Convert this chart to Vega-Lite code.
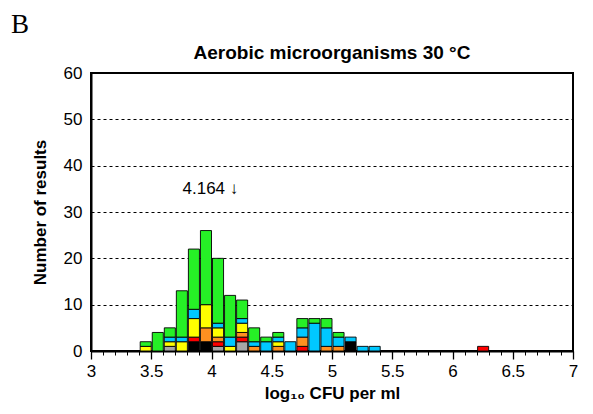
{
  "$schema": "https://vega.github.io/schema/vega-lite/v6.json",
  "autosize": {"type": "pad"},
  "padding": {"left": 11, "top": 11, "right": 15, "bottom": 6},
  "background": "white",
  "title": {"text": "B", "anchor": "start", "frame": "group", "font": "Liberation Serif", "fontSize": 27, "fontWeight": "normal", "color": "black", "dx": -80, "offset": 4},
  "config": {
    "view": {"stroke": "black", "strokeWidth": 2},
    "font": "Liberation Sans",
    "axis": {"labelFont": "Liberation Sans", "titleFont": "Liberation Sans", "labelColor": "black", "titleColor": "black", "domainColor": "black", "tickColor": "black"}
  },
  "bounds": "flush",
  "vconcat": [
    {
      "width": 482,
      "height": 278,
      "title": {"text": "Aerobic microorganisms 30 °C", "font": "Liberation Sans", "fontSize": 19, "fontWeight": "bold", "color": "black", "offset": 1},
      "data": {"values": [
        {"lo": 3.4, "hi": 3.5, "g": "yellow", "k": 5, "n": 1},
        {"lo": 3.4, "hi": 3.5, "g": "green", "k": 7, "n": 1},
        {"lo": 3.5, "hi": 3.6, "g": "green", "k": 7, "n": 4},
        {"lo": 3.6, "hi": 3.7, "g": "grey", "k": 2, "n": 1},
        {"lo": 3.6, "hi": 3.7, "g": "yellow", "k": 5, "n": 1},
        {"lo": 3.6, "hi": 3.7, "g": "cyan", "k": 6, "n": 1},
        {"lo": 3.6, "hi": 3.7, "g": "green", "k": 7, "n": 2},
        {"lo": 3.7, "hi": 3.8, "g": "yellow", "k": 5, "n": 2},
        {"lo": 3.7, "hi": 3.8, "g": "cyan", "k": 6, "n": 1},
        {"lo": 3.7, "hi": 3.8, "g": "green", "k": 7, "n": 10},
        {"lo": 3.8, "hi": 3.9, "g": "black", "k": 1, "n": 2},
        {"lo": 3.8, "hi": 3.9, "g": "red", "k": 3, "n": 1},
        {"lo": 3.8, "hi": 3.9, "g": "yellow", "k": 5, "n": 4},
        {"lo": 3.8, "hi": 3.9, "g": "cyan", "k": 6, "n": 2},
        {"lo": 3.8, "hi": 3.9, "g": "green", "k": 7, "n": 13},
        {"lo": 3.9, "hi": 4.0, "g": "black", "k": 1, "n": 2},
        {"lo": 3.9, "hi": 4.0, "g": "orange", "k": 4, "n": 3},
        {"lo": 3.9, "hi": 4.0, "g": "yellow", "k": 5, "n": 5},
        {"lo": 3.9, "hi": 4.0, "g": "green", "k": 7, "n": 16},
        {"lo": 4.0, "hi": 4.1, "g": "grey", "k": 2, "n": 1},
        {"lo": 4.0, "hi": 4.1, "g": "red", "k": 3, "n": 1},
        {"lo": 4.0, "hi": 4.1, "g": "orange", "k": 4, "n": 1},
        {"lo": 4.0, "hi": 4.1, "g": "yellow", "k": 5, "n": 2},
        {"lo": 4.0, "hi": 4.1, "g": "cyan", "k": 6, "n": 1},
        {"lo": 4.0, "hi": 4.1, "g": "green", "k": 7, "n": 14},
        {"lo": 4.1, "hi": 4.2, "g": "yellow", "k": 5, "n": 1},
        {"lo": 4.1, "hi": 4.2, "g": "cyan", "k": 6, "n": 2},
        {"lo": 4.1, "hi": 4.2, "g": "green", "k": 7, "n": 9},
        {"lo": 4.2, "hi": 4.3, "g": "grey", "k": 2, "n": 2},
        {"lo": 4.2, "hi": 4.3, "g": "red", "k": 3, "n": 1},
        {"lo": 4.2, "hi": 4.3, "g": "orange", "k": 4, "n": 1},
        {"lo": 4.2, "hi": 4.3, "g": "yellow", "k": 5, "n": 2},
        {"lo": 4.2, "hi": 4.3, "g": "cyan", "k": 6, "n": 1},
        {"lo": 4.2, "hi": 4.3, "g": "green", "k": 7, "n": 4},
        {"lo": 4.3, "hi": 4.4, "g": "orange", "k": 4, "n": 1},
        {"lo": 4.3, "hi": 4.4, "g": "cyan", "k": 6, "n": 1},
        {"lo": 4.3, "hi": 4.4, "g": "green", "k": 7, "n": 3},
        {"lo": 4.4, "hi": 4.5, "g": "cyan", "k": 6, "n": 2},
        {"lo": 4.4, "hi": 4.5, "g": "green", "k": 7, "n": 1},
        {"lo": 4.5, "hi": 4.6, "g": "orange", "k": 4, "n": 1},
        {"lo": 4.5, "hi": 4.6, "g": "yellow", "k": 5, "n": 1},
        {"lo": 4.5, "hi": 4.6, "g": "cyan", "k": 6, "n": 1},
        {"lo": 4.5, "hi": 4.6, "g": "green", "k": 7, "n": 1},
        {"lo": 4.6, "hi": 4.7, "g": "cyan", "k": 6, "n": 2},
        {"lo": 4.7, "hi": 4.8, "g": "red", "k": 3, "n": 1},
        {"lo": 4.7, "hi": 4.8, "g": "orange", "k": 4, "n": 2},
        {"lo": 4.7, "hi": 4.8, "g": "cyan", "k": 6, "n": 2},
        {"lo": 4.7, "hi": 4.8, "g": "green", "k": 7, "n": 2},
        {"lo": 4.8, "hi": 4.9, "g": "cyan", "k": 6, "n": 6},
        {"lo": 4.8, "hi": 4.9, "g": "green", "k": 7, "n": 1},
        {"lo": 4.9, "hi": 5.0, "g": "orange", "k": 4, "n": 1},
        {"lo": 4.9, "hi": 5.0, "g": "cyan", "k": 6, "n": 4},
        {"lo": 4.9, "hi": 5.0, "g": "green", "k": 7, "n": 2},
        {"lo": 5.0, "hi": 5.1, "g": "orange", "k": 4, "n": 1},
        {"lo": 5.0, "hi": 5.1, "g": "cyan", "k": 6, "n": 2},
        {"lo": 5.0, "hi": 5.1, "g": "green", "k": 7, "n": 1},
        {"lo": 5.1, "hi": 5.2, "g": "black", "k": 1, "n": 2},
        {"lo": 5.1, "hi": 5.2, "g": "cyan", "k": 6, "n": 1},
        {"lo": 5.2, "hi": 5.3, "g": "cyan", "k": 6, "n": 1},
        {"lo": 5.3, "hi": 5.4, "g": "cyan", "k": 6, "n": 1},
        {"lo": 6.2, "hi": 6.3, "g": "red", "k": 3, "n": 1}
      ]},
      "resolve": {"axis": {"x": "independent"}},
      "layer": [
        {
          "mark": {"type": "bar", "stroke": "black", "strokeWidth": 0.9, "opacity": 1},
          "encoding": {
            "x": {"field": "lo", "type": "quantitative", "bin": "binned",
              "scale": {"domain": [3, 7], "nice": false, "zero": false},
              "axis": {
                "orient": "bottom",
                "values": [3, 3.5, 4, 4.5, 5, 5.5, 6, 6.5, 7],
                "format": "~g",
                "tickSize": 8,
                "tickWidth": 1.3,
                "labelOverlap": false,
                "labelFlush": false,
                "labelFontSize": 17,
                "labelPadding": 4,
                "domainWidth": 2,
                "grid": false,
                "title": "log₁₀ CFU per ml",
                "titleFontSize": 17,
                "titleFontWeight": "bold",
                "titlePadding": 6
              }
            },
            "x2": {"field": "hi"},
            "y": {"field": "n", "type": "quantitative", "stack": "zero",
              "scale": {"domain": [0, 60], "nice": false},
              "axis": {
                "values": [0, 10, 20, 30, 40, 50, 60],
                "ticks": false,
                "labelPadding": 9,
                "labelFontSize": 17,
                "domainWidth": 2,
                "grid": true,
                "gridColor": "black",
                "gridDash": [3, 3],
                "gridWidth": 1,
                "title": "Number of results",
                "titleFontSize": 17,
                "titleFontWeight": "bold",
                "titlePadding": 14
              }
            },
            "color": {"field": "g", "type": "nominal",
              "scale": {"domain": ["black", "grey", "red", "orange", "yellow", "cyan", "green"],
                        "range": ["#000000", "#A6A6A6", "#FF0000", "#FF9020", "#FFFF00", "#00C8FF", "#26F026"]},
              "legend": null},
            "order": {"field": "k", "type": "quantitative"}
          }
        },
        {
          "data": {"values": [{"v": 4.164, "y": 35, "t": "4.164 ↓"}]},
          "mark": {"type": "text", "align": "right", "baseline": "middle", "dx": 7, "fontSize": 17, "font": "Liberation Sans", "color": "black"},
          "encoding": {
            "x": {"field": "v", "type": "quantitative",
              "axis": {
                "orient": "bottom",
                "values": [3,3.1,3.2,3.3,3.4,3.5,3.6,3.7,3.8,3.9,4,4.1,4.2,4.3,4.4,4.5,4.6,4.7,4.8,4.9,5,5.1,5.2,5.3,5.4,5.5,5.6,5.7,5.8,5.9,6,6.1,6.2,6.3,6.4,6.5,6.6,6.7,6.8,6.9,7],
                "labels": false,
                "domain": false,
                "grid": false,
                "tickSize": 4,
                "tickWidth": 1,
                "title": null
              }
            },
            "y": {"field": "y", "type": "quantitative"},
            "text": {"field": "t"}
          }
        }
      ]
    }
  ]
}
